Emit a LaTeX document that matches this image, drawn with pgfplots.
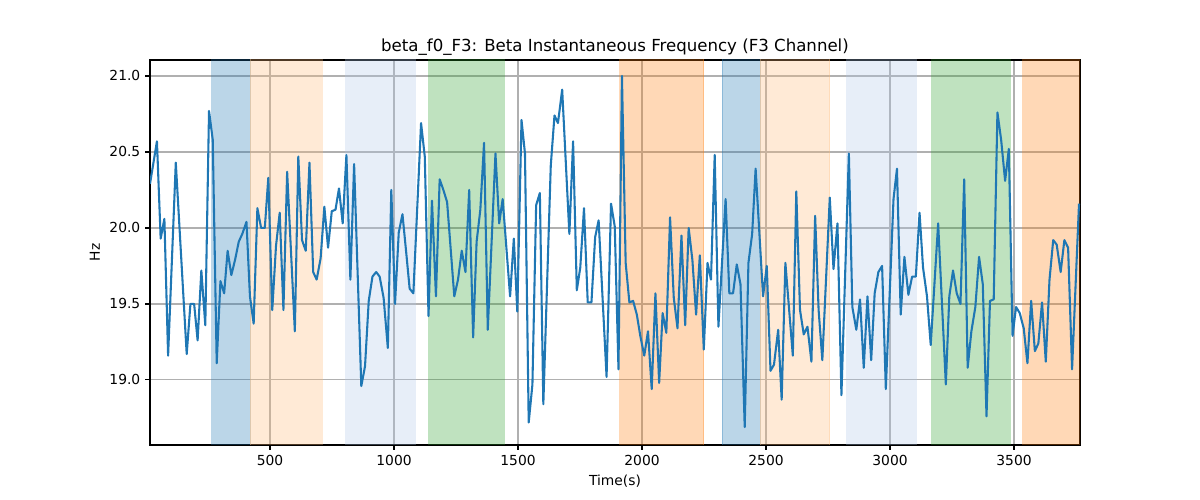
\documentclass[border=0pt]{standalone}
\usepackage{fontspec}
\setmainfont{DejaVu Sans}
\usepackage{pgfplots}
\pgfplotsset{compat=1.18}
\usepackage{pgfplotstable}

\definecolor{mplblue}{HTML}{1F77B4}
\definecolor{mplorange}{HTML}{FF7F0E}
\definecolor{mplgreen}{HTML}{2CA02C}
\definecolor{lightorange}{HTML}{FFBB78}
\definecolor{lightblue}{HTML}{AEC7E8}
\definecolor{gridgray}{HTML}{B0B0B0}

\pgfplotstableread{
x y
16 20.29
44 20.57
59 19.93
74 20.06
89 19.16
120 20.43
164 19.17
179 19.50
194 19.50
208 19.26
223 19.72
239 19.36
254 20.77
269 20.58
285 19.11
300 19.65
315 19.57
329 19.85
344 19.69
359 19.79
374 19.91
388 19.96
405 20.04
419 19.55
434 19.37
449 20.13
464 20.00
479 20.00
493 20.33
509 19.46
524 19.88
539 20.10
554 19.46
569 20.37
600 19.32
614 20.47
629 19.92
644 19.85
659 20.43
674 19.71
688 19.66
704 19.80
719 20.14
734 19.87
749 20.11
764 20.12
778 20.26
793 20.03
808 20.48
824 19.66
839 20.42
868 18.96
883 19.09
898 19.52
913 19.68
928 19.71
942 19.68
958 19.54
975 19.21
989 20.25
1004 19.50
1019 19.97
1034 20.09
1049 19.84
1063 19.60
1078 19.57
1109 20.69
1124 20.47
1139 19.42
1153 20.18
1169 19.55
1184 20.32
1199 20.25
1214 20.17
1243 19.55
1258 19.66
1273 19.85
1288 19.71
1303 20.25
1319 19.28
1333 19.91
1348 20.12
1363 20.56
1378 19.33
1409 20.49
1424 20.03
1438 20.19
1468 19.55
1483 19.93
1497 19.45
1514 20.71
1528 20.49
1543 18.72
1558 18.97
1573 20.15
1588 20.23
1602 18.84
1632 20.41
1647 20.74
1661 20.69
1678 20.91
1707 19.96
1722 20.57
1737 19.59
1751 19.74
1766 20.13
1781 19.51
1796 19.51
1811 19.94
1825 20.05
1857 19.02
1875 20.16
1890 20.01
1905 19.07
1919 21.00
1934 19.77
1949 19.51
1964 19.52
1979 19.43
1993 19.29
2009 19.16
2024 19.32
2039 18.94
2054 19.57
2069 18.98
2083 19.44
2098 19.31
2113 20.07
2128 19.54
2143 19.34
2159 19.95
2174 19.36
2188 20.00
2203 19.79
2218 19.43
2233 19.82
2249 19.20
2264 19.77
2278 19.66
2293 20.48
2308 19.35
2337 20.19
2352 19.57
2367 19.57
2382 19.76
2397 19.63
2414 18.69
2429 19.77
2444 19.96
2458 20.39
2488 19.55
2503 19.75
2518 19.06
2532 19.10
2549 19.33
2563 18.87
2578 19.77
2608 19.16
2622 20.24
2637 19.46
2652 19.30
2667 19.35
2683 19.12
2698 20.08
2712 19.46
2727 19.13
2757 20.20
2772 19.73
2788 20.03
2804 18.90
2834 20.49
2848 19.48
2864 19.33
2879 19.53
2894 19.08
2909 19.55
2924 19.13
2938 19.57
2953 19.71
2968 19.75
2983 18.94
3014 20.19
3028 20.39
3043 19.43
3058 19.81
3074 19.56
3089 19.68
3104 19.68
3119 20.10
3133 19.74
3149 19.55
3164 19.23
3194 20.03
3225 18.97
3239 19.55
3254 19.72
3269 19.57
3284 19.50
3299 20.32
3313 19.08
3328 19.32
3344 19.48
3359 19.81
3374 19.63
3389 18.76
3403 19.52
3418 19.53
3433 20.76
3448 20.58
3464 20.31
3479 20.52
3494 19.29
3508 19.48
3523 19.44
3539 19.34
3554 19.11
3569 19.52
3584 19.19
3598 19.24
3613 19.51
3628 19.12
3643 19.66
3658 19.92
3672 19.89
3688 19.71
3703 19.92
3718 19.87
3734 19.07
3762 20.16
}\freqdata

\begin{document}
\begin{tikzpicture}
\begin{axis}[
  width=9.3in, height=3.85in, scale only axis,
  xmin=16, xmax=3766, ymin=18.572, ymax=21.105,
  axis line style={line width=0.8pt},
  tick align=outside, tick pos=left,
  major tick length=3.5pt,
  every tick/.style={black, line width=0.8pt},
  xtick={500,1000,1500,2000,2500,3000,3500},
  ytick={19.0,19.5,20.0,20.5,21.0},
  grid=major,
  major grid style={gridgray, line width=0.8pt},
  /pgf/number format/assume math mode=true,
  /pgf/number format/1000 sep={},
  yticklabel style={/pgf/number format/.cd, fixed, fixed zerofill, precision=1},
  ticklabel style={font=\fontsize{10}{12}\selectfont},
  xlabel={Time(s)}, ylabel={Hz},
  label style={font=\fontsize{10}{12}\selectfont},
  title={beta\_f0\_F3: Beta Instantaneous Frequency (F3 Channel)},
  title style={font=\fontsize{12}{14}\selectfont, yshift=-6pt},
  clip=true,
]
\addplot[fill=mplblue, fill opacity=0.3, draw=mplblue, draw opacity=0.3, line width=0.7pt] coordinates {(265,18) (421,18) (421,22) (265,22)} -- cycle;
\addplot[fill=lightorange, fill opacity=0.3, draw=lightorange, draw opacity=0.3, line width=0.7pt] coordinates {(421,18) (711,18) (711,22) (421,22)} -- cycle;
\addplot[fill=lightblue, fill opacity=0.3, draw=lightblue, draw opacity=0.3, line width=0.7pt] coordinates {(805,18) (1086,18) (1086,22) (805,22)} -- cycle;
\addplot[fill=mplgreen, fill opacity=0.3, draw=mplgreen, draw opacity=0.3, line width=0.7pt] coordinates {(1140,18) (1445,18) (1445,22) (1140,22)} -- cycle;
\addplot[fill=mplorange, fill opacity=0.3, draw=mplorange, draw opacity=0.3, line width=0.7pt] coordinates {(1910,18) (2248,18) (2248,22) (1910,22)} -- cycle;
\addplot[fill=mplblue, fill opacity=0.3, draw=mplblue, draw opacity=0.3, line width=0.7pt] coordinates {(2323,18) (2477,18) (2477,22) (2323,22)} -- cycle;
\addplot[fill=lightorange, fill opacity=0.3, draw=lightorange, draw opacity=0.3, line width=0.7pt] coordinates {(2477,18) (2756,18) (2756,22) (2477,22)} -- cycle;
\addplot[fill=lightblue, fill opacity=0.3, draw=lightblue, draw opacity=0.3, line width=0.7pt] coordinates {(2825,18) (3106,18) (3106,22) (2825,22)} -- cycle;
\addplot[fill=mplgreen, fill opacity=0.3, draw=mplgreen, draw opacity=0.3, line width=0.7pt] coordinates {(3168,18) (3485,18) (3485,22) (3168,22)} -- cycle;
\addplot[fill=mplorange, fill opacity=0.3, draw=mplorange, draw opacity=0.3, line width=0.7pt] coordinates {(3535,18) (3900,18) (3900,22) (3535,22)} -- cycle;

\addplot[mplblue, line width=1.5pt, line join=round, no markers] table[x=x, y=y] {\freqdata};
\end{axis}
\path ([xshift=-1.5in, yshift=-0.55in]current axis.south west)
  rectangle ([xshift=1.2in, yshift=0.6in]current axis.north east);
\end{tikzpicture}
\end{document}
